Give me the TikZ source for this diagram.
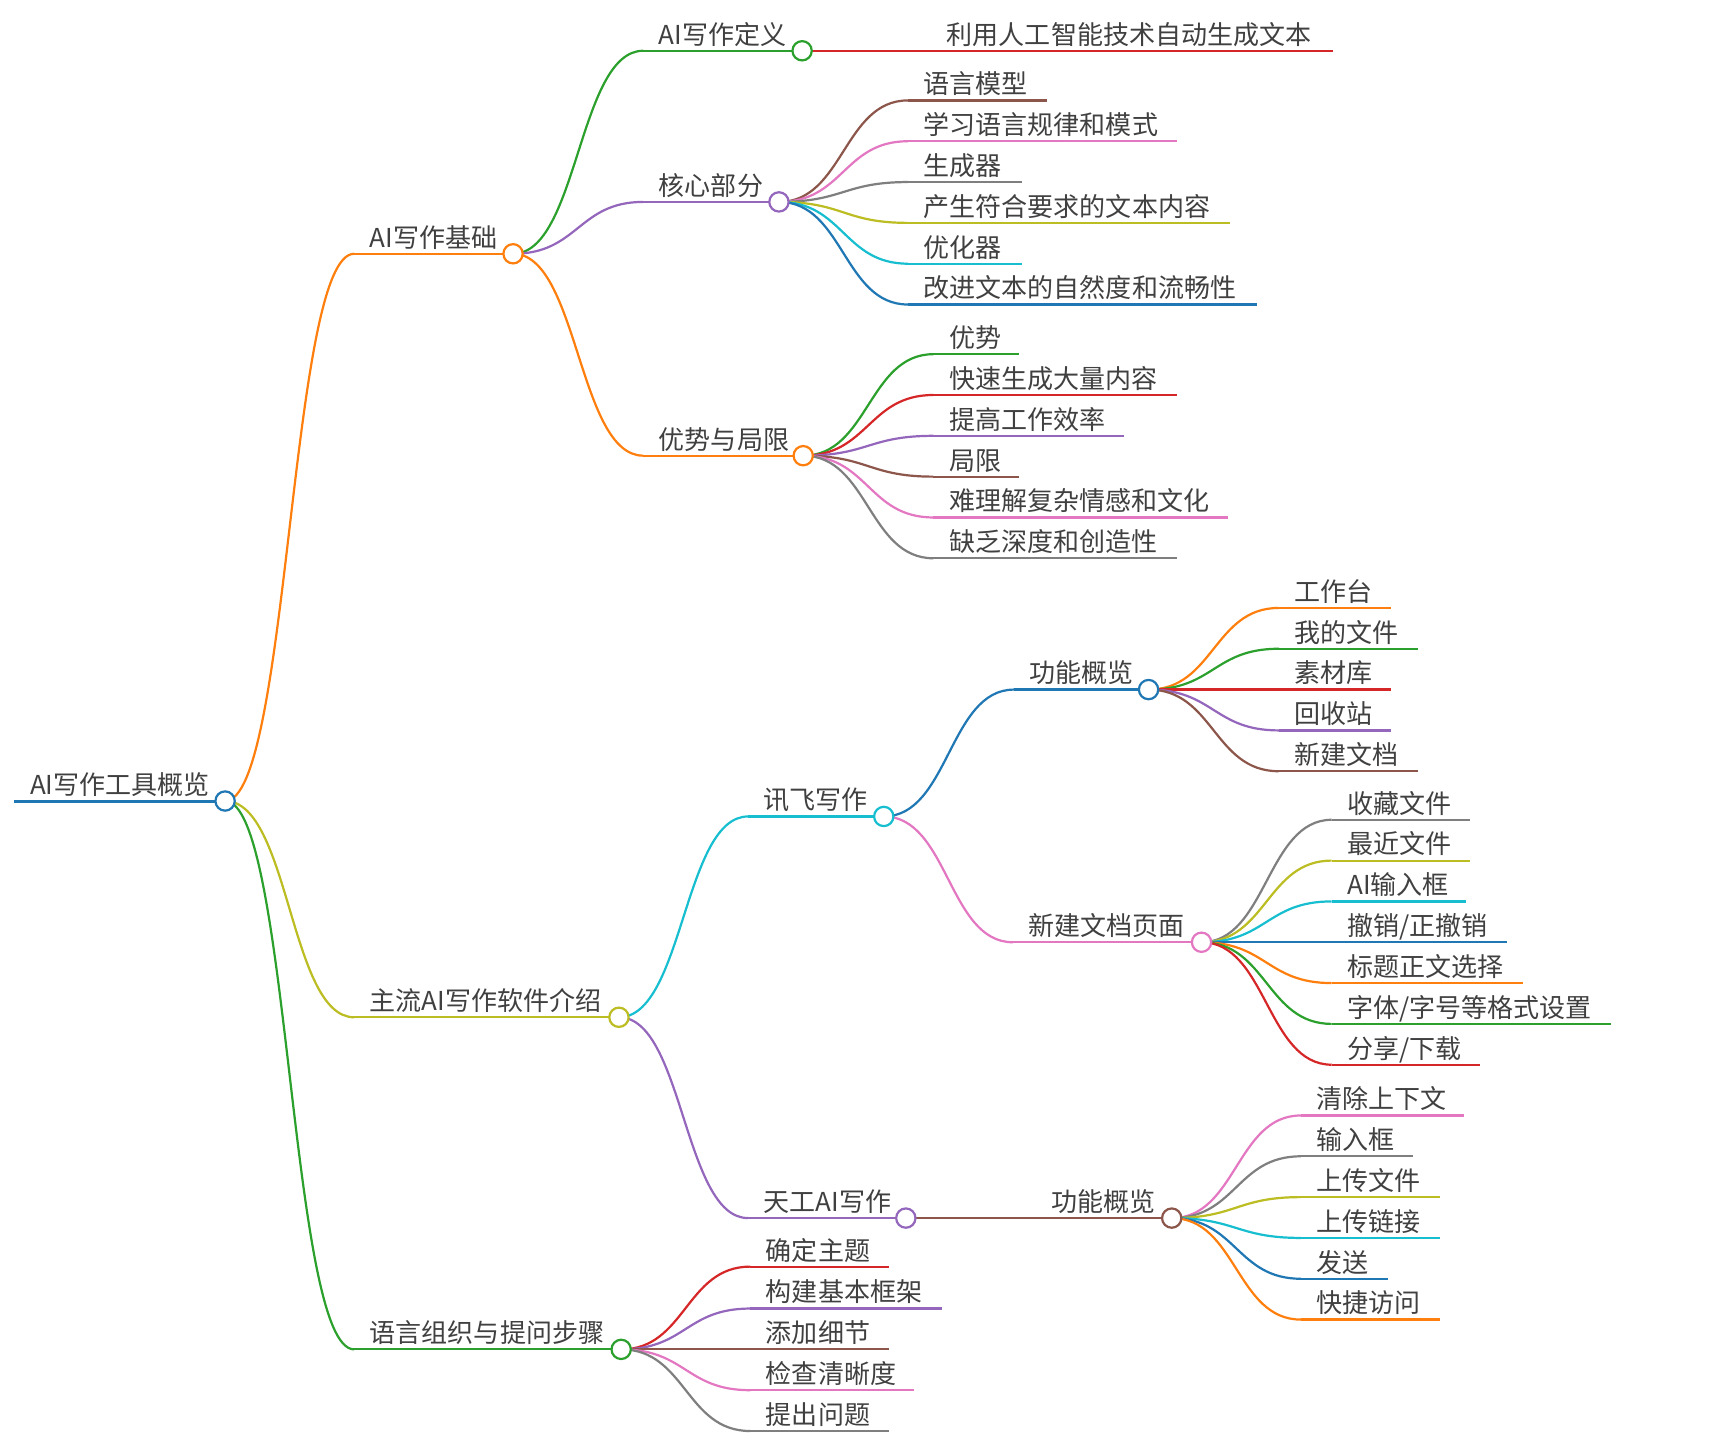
\documentclass[tikz,border=0pt]{standalone}
\usepackage{fontspec}
\setmainfont{Noto Sans CJK SC}
\usetikzlibrary{calc}
\definecolor{mblue}{HTML}{1F77B4}
\definecolor{morange}{HTML}{FF7F0E}
\definecolor{mgreen}{HTML}{2CA02C}
\definecolor{mred}{HTML}{D62728}
\definecolor{mpurple}{HTML}{9467BD}
\definecolor{mbrown}{HTML}{8C564B}
\definecolor{mpink}{HTML}{E377C2}
\definecolor{mgray}{HTML}{7F7F7F}
\definecolor{molive}{HTML}{BCBD22}
\definecolor{mcyan}{HTML}{17BECF}
\definecolor{mtext}{HTML}{404040}
\tikzset{
  ln/.style={line width=2pt},
  rootln/.style={line width=2.7pt},
  lbl/.style={inner sep=0pt, text=mtext, font=\fontsize{23.6}{28}\selectfont},
  dot/.style={circle, minimum size=17.5pt, inner sep=0pt, fill=white, line width=2pt},
}
% name, xs, xe, y, text
\newcommand\mnode[5]{%
  \coordinate (#1-s) at (#2,#4);
  \coordinate (#1-e) at (#3,#4);
  \node[lbl, anchor=base west] (#1) at (#2+14,#4-6) {#5};
}
\newcommand\mline[2]{\draw[ln,#2] (#1-s) -- (#1-e);}
\newcommand\mdot[2]{\node[dot, draw=#2] (#1-c) at (#1-e) {};}
\newcommand\mlink[3]{%
  \draw[ln,#3] let \p1=(#1-e), \p2=(#2-s) in
    (\p1) .. controls ({(\x1+\x2)/2},\y1) and ({(\x1+\x2)/2},\y2) .. (\p2);}
\begin{document}
\begin{tikzpicture}[x=1pt,y=-1pt]
\useasboundingbox (0,0) rectangle (1568,1318);
% ---------- nodes ----------
\mnode{root}{13}{204}{726}{AI写作工具概览}
\mnode{a}{321}{465}{230}{AI写作基础}
\mnode{a1}{583}{727}{46}{AI写作定义}
\mnode{a1x}{844}{1208}{46}{利用人工智能技术自动生成文本}
\mnode{a2}{583}{706}{183}{核心部分}
\mnode{a21}{823}{949}{91}{语言模型}
\mnode{a22}{823}{1067}{128}{学习语言规律和模式}
\mnode{a23}{823}{926}{165}{生成器}
\mnode{a24}{823}{1115}{202}{产生符合要求的文本内容}
\mnode{a25}{823}{926}{239}{优化器}
\mnode{a26}{823}{1139}{276}{改进文本的自然度和流畅性}
\mnode{a3}{583}{728}{413}{优势与局限}
\mnode{a31}{846}{924}{321}{优势}
\mnode{a32}{846}{1067}{358}{快速生成大量内容}
\mnode{a33}{846}{1019}{395}{提高工作效率}
\mnode{a34}{846}{924}{432}{局限}
\mnode{a35}{846}{1113}{469}{难理解复杂情感和文化}
\mnode{a36}{846}{1067}{506}{缺乏深度和创造性}
\mnode{b}{321}{561}{922}{主流AI写作软件介绍}
\mnode{b1}{678}{801}{740}{讯飞写作}
\mnode{b1a}{919}{1041}{625}{功能概览}
\mnode{b1a1}{1159}{1261}{551}{工作台}
\mnode{b1a2}{1159}{1285}{588}{我的文件}
\mnode{b1a3}{1159}{1261}{625}{素材库}
\mnode{b1a4}{1159}{1261}{662}{回收站}
\mnode{b1a5}{1159}{1285}{699}{新建文档}
\mnode{b1b}{918}{1089}{854}{新建文档页面}
\mnode{b1b1}{1207}{1332}{743}{收藏文件}
\mnode{b1b2}{1207}{1332}{780}{最近文件}
\mnode{b1b3}{1207}{1329}{817}{AI输入框}
\mnode{b1b4}{1207}{1366}{854}{撤销/正撤销}
\mnode{b1b5}{1207}{1380}{891}{标题正文选择}
\mnode{b1b6}{1207}{1460}{928}{字体/字号等格式设置}
\mnode{b1b7}{1207}{1341}{965}{分享/下载}
\mnode{b2}{678}{821}{1104}{天工AI写作}
\mnode{b2a}{939}{1062}{1104}{功能概览}
\mnode{b2a1}{1179}{1327}{1011}{清除上下文}
\mnode{b2a2}{1179}{1281}{1048}{输入框}
\mnode{b2a3}{1179}{1305}{1085}{上传文件}
\mnode{b2a4}{1179}{1305}{1122}{上传链接}
\mnode{b2a5}{1179}{1258}{1159}{发送}
\mnode{b2a6}{1179}{1305}{1196}{快捷访问}
\mnode{c}{321}{563}{1223}{语言组织与提问步骤}
\mnode{c1}{680}{806}{1148}{确定主题}
\mnode{c2}{680}{854}{1186}{构建基本框架}
\mnode{c3}{680}{806}{1223}{添加细节}
\mnode{c4}{680}{828}{1260}{检查清晰度}
\mnode{c5}{680}{806}{1297}{提出问题}
% ---------- connectors ----------
\mlink{root}{a}{morange}
\mlink{root}{b}{molive}
\mlink{root}{c}{mgreen}
\mlink{a}{a1}{mgreen}
\mlink{a}{a2}{mpurple}
\mlink{a}{a3}{morange}
\mlink{a1}{a1x}{mred}
\mlink{a2}{a21}{mbrown}
\mlink{a2}{a22}{mpink}
\mlink{a2}{a23}{mgray}
\mlink{a2}{a24}{molive}
\mlink{a2}{a25}{mcyan}
\mlink{a2}{a26}{mblue}
\mlink{a3}{a31}{mgreen}
\mlink{a3}{a32}{mred}
\mlink{a3}{a33}{mpurple}
\mlink{a3}{a34}{mbrown}
\mlink{a3}{a35}{mpink}
\mlink{a3}{a36}{mgray}
\mlink{b}{b1}{mcyan}
\mlink{b}{b2}{mpurple}
\mlink{b1}{b1a}{mblue}
\mlink{b1}{b1b}{mpink}
\mlink{b1a}{b1a1}{morange}
\mlink{b1a}{b1a2}{mgreen}
\mlink{b1a}{b1a3}{mred}
\mlink{b1a}{b1a4}{mpurple}
\mlink{b1a}{b1a5}{mbrown}
\mlink{b1b}{b1b1}{mgray}
\mlink{b1b}{b1b2}{molive}
\mlink{b1b}{b1b3}{mcyan}
\mlink{b1b}{b1b4}{mblue}
\mlink{b1b}{b1b5}{morange}
\mlink{b1b}{b1b6}{mgreen}
\mlink{b1b}{b1b7}{mred}
\mlink{b2}{b2a}{mbrown}
\mlink{b2a}{b2a1}{mpink}
\mlink{b2a}{b2a2}{mgray}
\mlink{b2a}{b2a3}{molive}
\mlink{b2a}{b2a4}{mcyan}
\mlink{b2a}{b2a5}{mblue}
\mlink{b2a}{b2a6}{morange}
\mlink{c}{c1}{mred}
\mlink{c}{c2}{mpurple}
\mlink{c}{c3}{mbrown}
\mlink{c}{c4}{mpink}
\mlink{c}{c5}{mgray}
% ---------- underlines ----------
\draw[rootln,mblue] (root-s) -- (root-e);
\mline{a}{morange}
\mline{a1}{mgreen}
\mline{a1x}{mred}
\mline{a2}{mpurple}
\mline{a21}{mbrown}
\mline{a22}{mpink}
\mline{a23}{mgray}
\mline{a24}{molive}
\mline{a25}{mcyan}
\mline{a26}{mblue}
\mline{a3}{morange}
\mline{a31}{mgreen}
\mline{a32}{mred}
\mline{a33}{mpurple}
\mline{a34}{mbrown}
\mline{a35}{mpink}
\mline{a36}{mgray}
\mline{b}{molive}
\mline{b1}{mcyan}
\mline{b1a}{mblue}
\mline{b1a1}{morange}
\mline{b1a2}{mgreen}
\mline{b1a3}{mred}
\mline{b1a4}{mpurple}
\mline{b1a5}{mbrown}
\mline{b1b}{mpink}
\mline{b1b1}{mgray}
\mline{b1b2}{molive}
\mline{b1b3}{mcyan}
\mline{b1b4}{mblue}
\mline{b1b5}{morange}
\mline{b1b6}{mgreen}
\mline{b1b7}{mred}
\mline{b2}{mpurple}
\mline{b2a}{mbrown}
\mline{b2a1}{mpink}
\mline{b2a2}{mgray}
\mline{b2a3}{molive}
\mline{b2a4}{mcyan}
\mline{b2a5}{mblue}
\mline{b2a6}{morange}
\mline{c}{mgreen}
\mline{c1}{mred}
\mline{c2}{mpurple}
\mline{c3}{mbrown}
\mline{c4}{mpink}
\mline{c5}{mgray}
% ---------- circles ----------
\mdot{root}{mblue}
\mdot{a}{morange}
\mdot{a1}{mgreen}
\mdot{a2}{mpurple}
\mdot{a3}{morange}
\mdot{b}{molive}
\mdot{b1}{mcyan}
\mdot{b1a}{mblue}
\mdot{b1b}{mpink}
\mdot{b2}{mpurple}
\mdot{b2a}{mbrown}
\mdot{c}{mgreen}
\end{tikzpicture}
\end{document}
